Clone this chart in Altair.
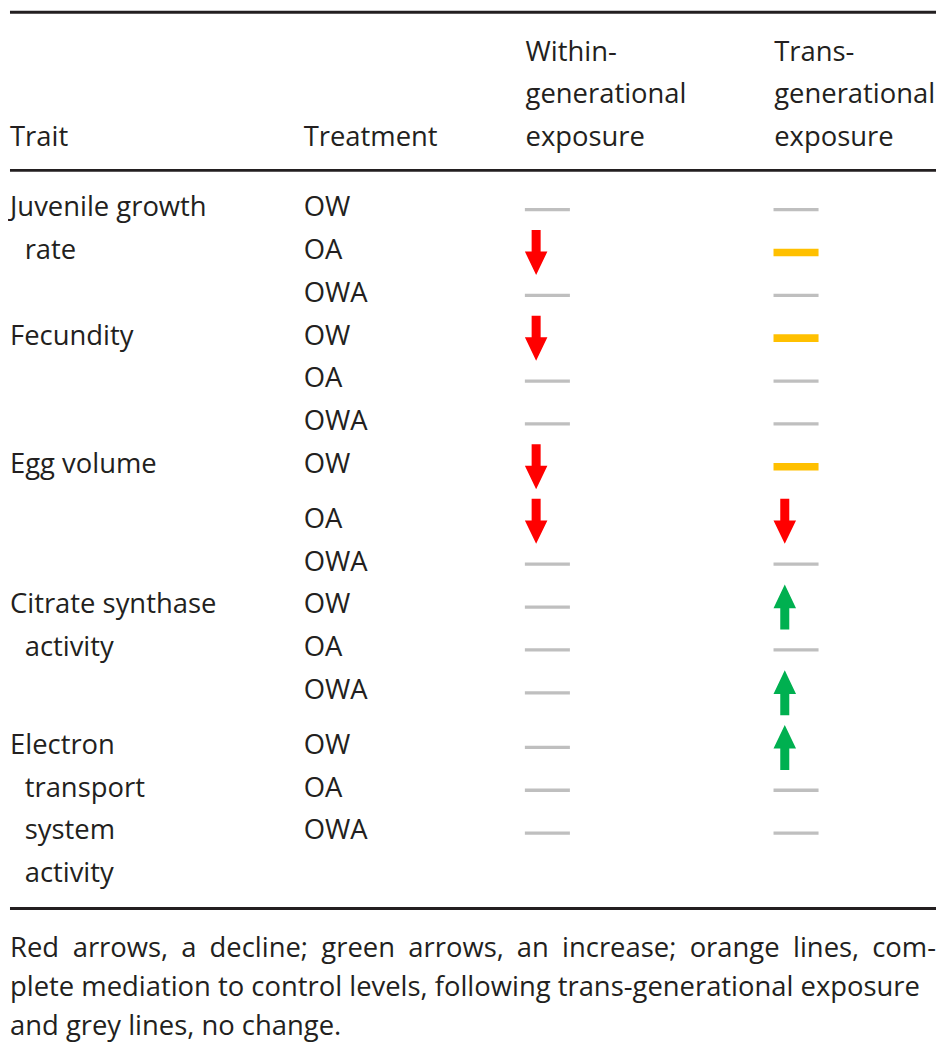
import altair as alt
import pandas as pd

# ---------------- data ----------------
header_labels = [["Trait"], ["Treatment"],
                 ["Within-", "generational", "exposure"],
                 ["Trans-", "generational", "exposure"]]
traits = [["Juvenile growth", "rate"],
          ["Fecundity"],
          ["Egg volume"],
          ["Citrate synthase", "activity"],
          ["Electron", "transport", "system", "activity"]]
treatments = ["OW", "OA", "OWA"]
# effect codes: none = grey line, down = red arrow, up = green arrow, mediation = orange line
within_effect = ["none", "down", "none",
                 "down", "none", "none",
                 "down", "down", "none",
                 "none", "none", "none",
                 "none", "none", "none"]
trans_effect = ["none", "mediation", "none",
                "mediation", "none", "none",
                "mediation", "down", "none",
                "up", "none", "up",
                "up", "none", "none"]
footnote_lines = [
    "Red arrows, a decline; green arrows, an increase; orange lines, com-",
    "plete mediation to control levels, following trans-generational exposure",
    "and grey lines, no change.",
]
justified = [True, False, False]

# ---------------- layout (reference pixel units) ----------------
REF_W, REF_H = 946, 1059
W, H = 930, 1043
K = W / REF_W
FONT = "Open Sans"
FS = 28 * K
REF_FS = 28
INK = "#231f20"

col_x = [0, 300, 526.7, 780.7]          # left edges of the four columns
sym_x = [549, 803]                      # symbol anchor in the two effect columns
indent = 15
pitch = 43.7
gap = 12
first_row = 203.3
base_off = 6.5                          # text baseline below symbol centre
header_base = 138.3
header_pitch = 43.5
rule_y = [2, 163.3, 916]
foot_base = [965, 1005, 1045]

# approximate advance widths (em) of the sans face, used only to justify a line
ADV = {" ": 0.26, "a": 0.556, "b": 0.613, "c": 0.476, "d": 0.613, "e": 0.561,
       "f": 0.339, "g": 0.548, "h": 0.614, "i": 0.253, "j": 0.253, "k": 0.525,
       "l": 0.253, "m": 0.930, "n": 0.614, "o": 0.604, "p": 0.613, "q": 0.613,
       "r": 0.408, "s": 0.477, "t": 0.353, "u": 0.614, "v": 0.501, "w": 0.778,
       "x": 0.524, "y": 0.502, "z": 0.462, ",": 0.245, ";": 0.266, "-": 0.322,
       ".": 0.266, "R": 0.631}


def word_width(w):
    return sum(ADV.get(ch, 0.55) for ch in w) * REF_FS


arrows = {"down", "up"}
row_y = []
y = first_row
for i in range(len(within_effect)):
    if i > 0:
        y += pitch
        if ((within_effect[i] in arrows and within_effect[i - 1] in arrows) or
                (trans_effect[i] in arrows and trans_effect[i - 1] in arrows)):
            y += gap
    row_y.append(y)

texts = []
for c, lines in enumerate(header_labels):
    n = len(lines)
    for j, t in enumerate(lines):
        texts.append({"x": col_x[c], "y": header_base - header_pitch * (n - 1 - j), "t": t, "a": "left"})

r = 0
for lines in traits:
    ys = row_y[r:r + 3]
    for j, t in enumerate(lines):
        ty = ys[j] if j < 3 else ys[-1] + pitch * (j - 2)
        texts.append({"x": col_x[0] + (indent if j > 0 else 0), "y": ty + base_off, "t": t, "a": "left"})
    for j, tr in enumerate(treatments):
        texts.append({"x": col_x[1], "y": ys[j] + base_off, "t": tr, "a": "left"})
    r += 3

for j, t in enumerate(footnote_lines):
    if justified[j]:
        words = t.split(" ")
        widths = [word_width(w) for w in words]
        space = (REF_W - sum(widths)) / (len(words) - 1)
        xpos = 0
        for wi, w in enumerate(words):
            if wi == len(words) - 1:
                texts.append({"x": REF_W, "y": foot_base[j], "t": w, "a": "right"})
            else:
                texts.append({"x": xpos, "y": foot_base[j], "t": w, "a": "left"})
            xpos += widths[wi] + space
    else:
        texts.append({"x": 0, "y": foot_base[j], "t": t, "a": "left"})

syms = []
for i in range(len(within_effect)):
    syms.append({"x": sym_x[0], "y": row_y[i], "type": within_effect[i]})
    syms.append({"x": sym_x[1], "y": row_y[i], "type": trans_effect[i]})

rules = pd.DataFrame({"y": rule_y})

xs = alt.Scale(domain=[0, REF_W], nice=False, zero=False)
ys_ = alt.Scale(domain=[0, REF_H], nice=False, zero=False, reverse=True)

tdf = pd.DataFrame(texts)


def text_layer(align):
    return alt.Chart(tdf[tdf["a"] == align]).mark_text(
        align=align, baseline="alphabetic", font=FONT, fontSize=FS,
        fontWeight=400, color=INK
    ).encode(
        x=alt.X("x:Q", scale=xs, axis=None),
        y=alt.Y("y:Q", scale=ys_, axis=None),
        text="t:N",
    )


rule_layer = alt.Chart(rules).mark_rule(color=INK, strokeWidth=3).encode(
    y=alt.Y("y:Q", scale=ys_, axis=None),
    x=alt.value(0),
    x2=alt.value(W),
)

types = ["none", "mediation", "down", "up"]
paths = [
    "M-1,-0.073L1,-0.073L1,0.073L-1,0.073Z",
    "M-1,-0.17L1,-0.17L1,0.17L-1,0.17Z",
    "M-0.7,-1L-0.3,-1L-0.3,-0.04L0,-0.04L-0.5,1L-1,-0.04L-0.7,-0.04Z",
    "M-0.7,1L-0.3,1L-0.3,0.05L0,0.05L-0.5,-1L-1,0.05L-0.7,0.05Z",
]
colors = ["#bfbfbf", "#ffc000", "#ff0000", "#00b050"]
S = 46 * K

sym_layer = alt.Chart(pd.DataFrame(syms)).mark_point(
    filled=True, size=S * S, opacity=1, strokeWidth=0
).encode(
    x=alt.X("x:Q", scale=xs, axis=None),
    y=alt.Y("y:Q", scale=ys_, axis=None),
    shape=alt.Shape("type:N", scale=alt.Scale(domain=types, range=paths), legend=None),
    color=alt.Color("type:N", scale=alt.Scale(domain=types, range=colors), legend=None),
)

chart = alt.layer(rule_layer, sym_layer, text_layer("left"), text_layer("right")).properties(
    width=W, height=H, padding=0, background="white"
).configure_view(stroke=None)

chart.save("out.html", embed_options={"renderer": "svg", "actions": False})
